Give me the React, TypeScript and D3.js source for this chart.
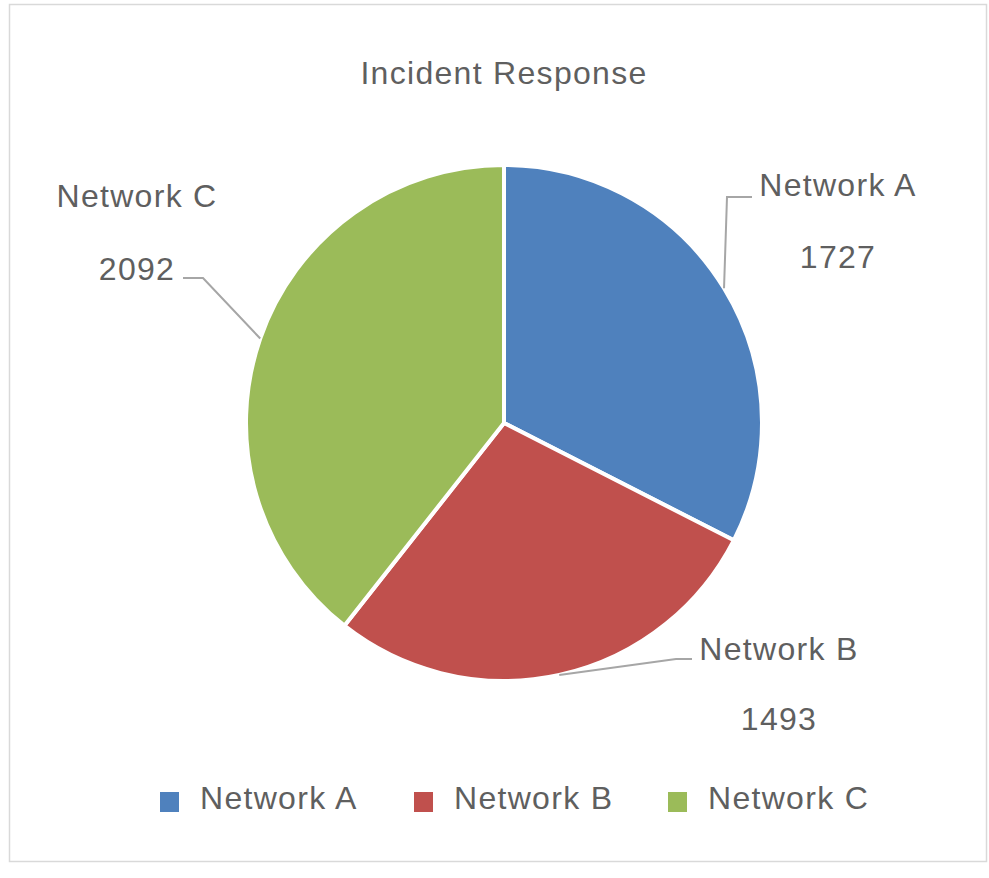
import * as d3 from "d3";

const categories = ["Network A", "Network B", "Network C"];
const values = [1727, 1493, 2092];
const colors = ["#4f81bd", "#c0504d", "#9bbb59"];

const W = 989;
const H = 878;
const cx = 504;
const cy = 423;
const radius = 258;
const textColor = "#5f5f5f";
const font = "'Liberation Sans', Arial, sans-serif";
const spacing = 1.3;

// where each label sits and how its leader line bends
const labelPos = [
  { x: 838, nameY: 196, valueY: 268, elbow: [[727, 197], [752, 197]] },
  { x: 779, nameY: 660, valueY: 730, elbow: [[676, 659], [692, 659]] },
  { x: 137, nameY: 207, valueY: 280, elbow: [[203, 278], [183, 278]] },
];

export default function App() {
  const data = categories.map((c, i) => ({ name: c, value: values[i], color: colors[i] }));
  const pie = d3.pie<any>().sort(null).value((d) => d.value);
  const arcs = pie(data);
  const arc = d3.arc<any>().innerRadius(0).outerRadius(radius);
  const line = d3.line();

  const legendX = [160, 414, 668];

  return (
    <div style={{ position: "absolute", left: 0, top: 0 }}>
      <svg width={W} height={H} style={{ display: "block", background: "#fff" }}>
        <rect x={9.5} y={4.5} width={977} height={857} fill="#fff" stroke="#d9d9d9" strokeWidth={1.5} />
        <text x={cx} y={84} textAnchor="middle" fontFamily={font} fontSize={32} letterSpacing={spacing} fill={textColor}>
          Incident Response
        </text>
        <g transform={`translate(${cx},${cy})`}>
          {arcs.map((a, i) => (
            <path key={i} d={arc(a) || ""} fill={a.data.color} stroke="#fff" strokeWidth={4} strokeLinejoin="round" />
          ))}
        </g>
        {arcs.map((a, i) => {
          const mid = (a.startAngle + a.endAngle) / 2;
          const p: [number, number] = [cx + radius * Math.sin(mid), cy - radius * Math.cos(mid)];
          const lp = labelPos[i];
          const pts = [p, ...(lp.elbow as [number, number][])];
          return (
            <g key={"l" + i}>
              <path d={line(pts) || ""} fill="none" stroke="#a6a6a6" strokeWidth={2} />
              <text x={lp.x} y={lp.nameY} textAnchor="middle" fontFamily={font} fontSize={32} letterSpacing={spacing} fill={textColor}>
                {a.data.name}
              </text>
              <text x={lp.x} y={lp.valueY} textAnchor="middle" fontFamily={font} fontSize={32} letterSpacing={spacing} fill={textColor}>
                {a.data.value}
              </text>
            </g>
          );
        })}
        {data.map((d, i) => (
          <g key={"lg" + i}>
            <rect x={legendX[i]} y={792} width={19} height={20} fill={d.color} />
            <text x={legendX[i] + 40} y={809} fontFamily={font} fontSize={32} letterSpacing={spacing} fill={textColor}>
              {d.name}
            </text>
          </g>
        ))}
      </svg>
    </div>
  );
}
